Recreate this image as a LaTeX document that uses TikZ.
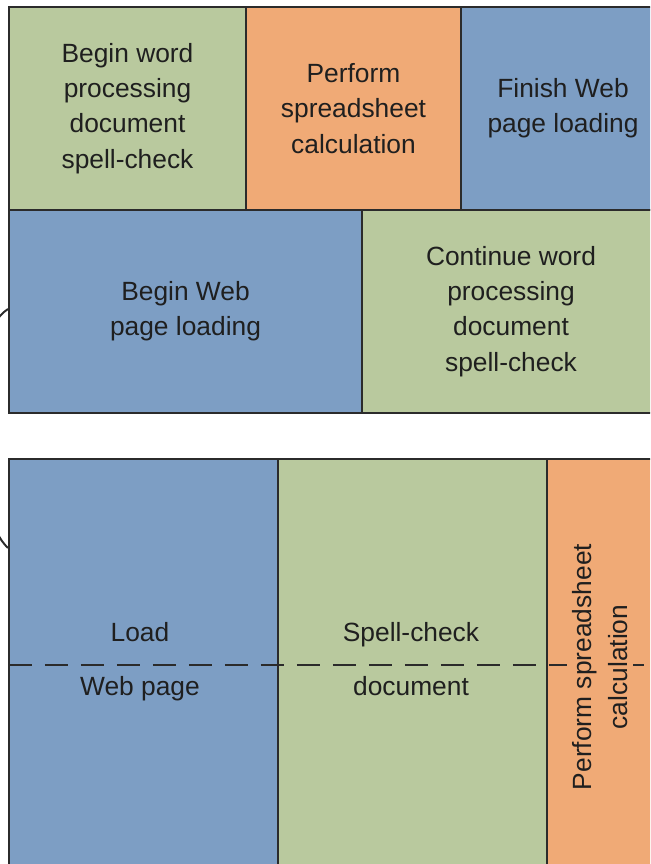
\documentclass[tikz,border=0pt]{standalone}
\usepackage{fontspec}
\setmainfont{Liberation Sans}
\usetikzlibrary{positioning}

\definecolor{taskgreen}{HTML}{B9C99E}
\definecolor{taskorange}{HTML}{F0AA76}
\definecolor{taskblue}{HTML}{7D9EC4}
\definecolor{edge}{HTML}{2B2B2B}

\begin{document}
\begin{tikzpicture}[
    x=0.02cm, y=-0.02cm,
    font=\fontsize{15}{20}\selectfont,
    task/.style={draw=edge, line width=1.2pt, inner sep=0pt, align=center,
                 text=black!88},
    wordS/.style={task, fill=taskgreen},
    calcS/.style={task, fill=taskorange},
    webS/.style={task, fill=taskblue},
    txt/.style={align=center, text=black!88, inner sep=1pt},
    split/.style={draw=edge, line width=1.2pt, dash pattern=on 0.46cm off 0.26cm},
    tick/.style={draw=edge, line width=1.1pt}
]
    \clip (0,0) rectangle (650,864);
    \fill[white] (0,0) rectangle (650,864);

    % interleaved time slices
    \node[wordS, minimum width=4.74cm, minimum height=4.06cm] (word1) at (127.5,108.5)
        {Begin word\\ processing\\ document\\ spell-check};
    \node[calcS, minimum width=4.30cm, minimum height=4.06cm] (calc1) at (353.5,108.5)
        {Perform\\ spreadsheet\\ calculation};
    \node[webS, minimum width=4.08cm, minimum height=4.06cm] (web2) at (563,108.5)
        {Finish Web\\ page loading};
    \node[webS, minimum width=7.06cm, minimum height=4.06cm] (web1) at (185.5,311.5)
        {Begin Web\\ page loading};
    \node[wordS, minimum width=5.96cm, minimum height=4.06cm] (word2) at (511,311.5)
        {Continue word\\ processing\\ document\\ spell-check};

    % parallel tasks
    \node[webS, minimum width=5.38cm, minimum height=8.6cm] (web) at (143.5,674) {};
    \node[wordS, minimum width=5.38cm, minimum height=8.6cm] (word) at (412.5,674) {};
    \node[calcS, minimum width=2.26cm, minimum height=8.6cm] (calc) at (603.5,674) {};

    \coordinate (midL) at (9,665);
    \coordinate (midR) at (660,665);
    \draw[split] (midL) -- (midR);

    \node[txt, anchor=base] (webtop) at (140,641) {Load};
    \node[txt, anchor=base] (webbot) at (140,695) {Web page};
    \node[txt, anchor=base] (wordtop) at (411,641) {Spell-check};
    \node[txt, anchor=base] (wordbot) at (411,695) {document};
    \node[txt, rotate=90, fill=taskorange, inner sep=3pt] (calctxt) at (600,667)
        {Perform spreadsheet\\ calculation};

    % bracket ends on the left
    \coordinate (bt1) at (-3,320);
    \coordinate (bt2) at (-3,532);
    \draw[tick] (bt1) to[bend left=10] (web1.west |- 0,309);
    \draw[tick] (bt2) to[bend right=10] (web.west |- 0,548);
\end{tikzpicture}
\end{document}
